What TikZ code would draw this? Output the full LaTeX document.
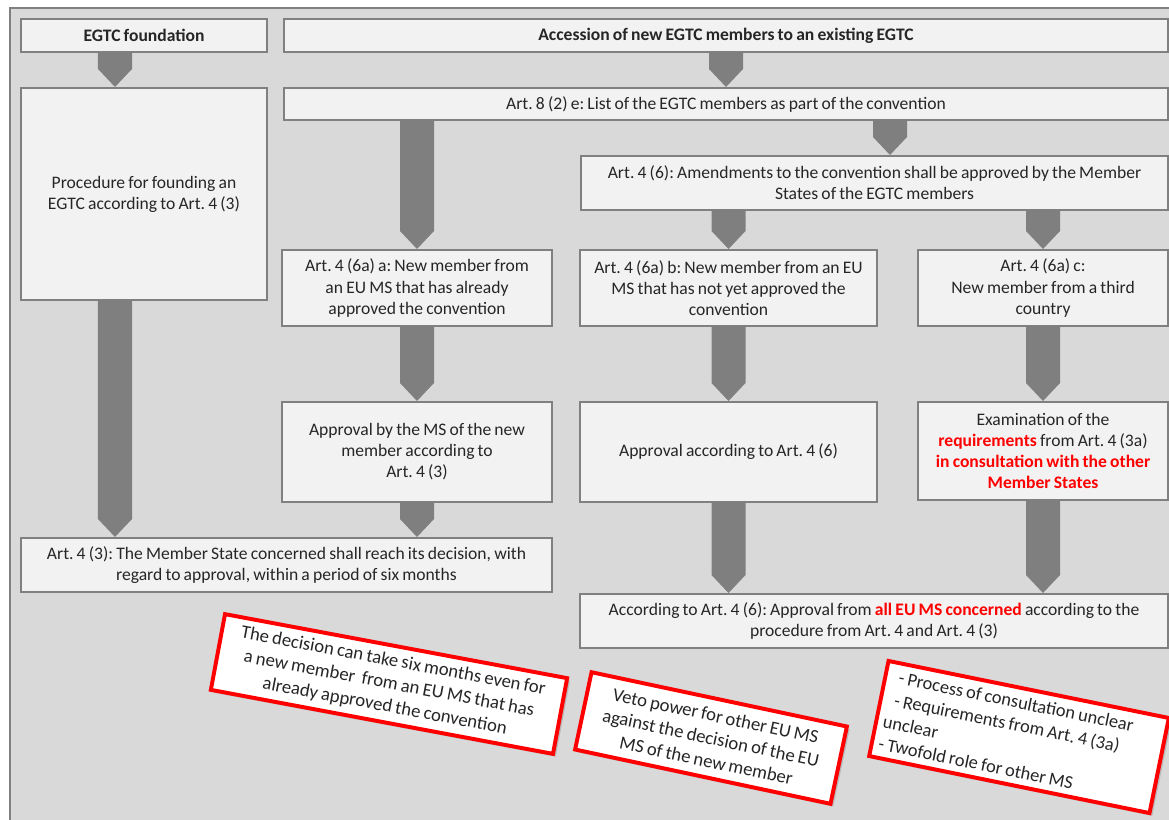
\documentclass[tikz,border=0pt]{standalone}
\usepackage{fontspec}
\setmainfont{Carlito}[WordSpace=0.8]
\usetikzlibrary{calc,shadows}

\definecolor{framegray}{HTML}{D9D9D9}
\definecolor{boxgray}{HTML}{F2F2F2}
\definecolor{linegray}{HTML}{808080}
\definecolor{arrowgray}{HTML}{7F7F7F}
\definecolor{txtgray}{HTML}{262626}
\definecolor{notered}{HTML}{FF0000}

% block arrow from one box to the next, in the column of #3
\newcommand{\blockarrow}[3]{%
  \fill[arrowgray] let \p1=(#1.south -| #3), \p2=(#2.north -| #3) in
    (\x1-0.425cm,\y1) -- (\x1+0.425cm,\y1) -- (\x2+0.425cm,\y2+0.45cm)
    -- (\x2,\y2) -- (\x2-0.425cm,\y2+0.45cm) -- cycle;}
\newcommand{\hl}[1]{\textcolor{notered}{\textbf{#1}}}

\begin{document}
\frenchspacing
\begin{tikzpicture}[x=0.025cm, y=-0.025cm,
  box/.style={draw=linegray, line width=1.4pt, fill=boxgray, align=center,
    inner sep=2pt, text=txtgray, font=\fontsize{12.5}{15}\selectfont},
  headbox/.style={box, font=\fontsize{12.5}{15}\selectfont\bfseries},
  note/.style={draw=notered, line width=2.8pt, fill=white, text=txtgray,
    font=\fontsize{13.3}{16.3}\selectfont,
    drop shadow={opacity=0.35, shadow xshift=2pt, shadow yshift=-2pt}}]
  \useasboundingbox (0,0) rectangle (1169,820);
  \clip (0,0) rectangle (1169,820);

  % frame
  \fill[framegray] (10,8) rectangle (1190,840);
  \draw[linegray, line width=1.4pt] (10,8) rectangle (1190,840);

  % headers
  \node[headbox, minimum width=6.15cm, minimum height=0.825cm] (found) at (144,35.5) {EGTC foundation};
  \node[headbox, minimum width=22.1cm, minimum height=0.825cm] (access) at (726,35.5) {Accession of new EGTC members to an existing EGTC};

  % boxes
  \node[box, minimum width=6.15cm, minimum height=5.3cm] (proc) at (144,194) {Procedure for founding an\\EGTC according to Art. 4 (3)};
  \node[box, minimum width=22.1cm, minimum height=0.8cm] (art8) at (726,104) {Art. 8 (2) e: List of the EGTC members as part of the convention};
  \node[box, minimum width=14.675cm, minimum height=1.35cm] (art46) at (874.5,183) {Art. 4 (6): Amendments to the convention shall be approved by the Member\\States of the EGTC members};
  \node[box, minimum width=6.75cm, minimum height=1.9cm] (newa) at (417,288) {Art. 4 (6a) a: New member from\\an EU MS that has already\\approved the convention};
  \node[box, minimum width=7.425cm, minimum height=1.9cm] (newb) at (728.5,288) {Art. 4 (6a) b: New member from an EU\\MS that has not yet approved the\\convention};
  \node[box, minimum width=6.25cm, minimum height=1.9cm] (newc) at (1043,288) {Art. 4 (6a) c:\\New member from a third\\country};
  \node[box, minimum width=6.75cm, minimum height=2.5cm] (apprms) at (417,452) {Approval by the MS of the new\\member according to\\Art. 4 (3)};
  \node[box, minimum width=7.425cm, minimum height=2.5cm] (apprb) at (728.5,452) {Approval according to Art. 4 (6)};
  \node[box, minimum width=6.25cm, minimum height=2.45cm] (exam) at (1043,451) {Examination of the\\\hl{requirements} from Art. 4 (3a)\\\hl{in consultation with the other}\\\hl{Member States}};
  \node[box, minimum width=13.275cm, minimum height=1.35cm] (decision) at (286.5,565) {Art. 4 (3): The Member State concerned shall reach its decision, with\\regard to approval, within a period of six months};
  \node[box, minimum width=14.7cm, minimum height=1.35cm] (allms) at (874,621) {According to Art. 4 (6): Approval from \hl{all EU MS concerned} according to the\\procedure from Art. 4 and Art. 4 (3)};

  % columns off the box centres
  \coordinate (colL) at (115,0);
  \coordinate (colR) at (890,0);

  % arrows
  \blockarrow{found}{proc}{colL}
  \blockarrow{access}{art8}{access}
  \blockarrow{art8}{newa}{newa}
  \blockarrow{art8}{art46}{colR}
  \blockarrow{art46}{newb}{newb}
  \blockarrow{art46}{newc}{newc}
  \blockarrow{newa}{apprms}{newa}
  \blockarrow{newb}{apprb}{newb}
  \blockarrow{newc}{exam}{newc}
  \blockarrow{proc}{decision}{colL}
  \blockarrow{apprms}{decision}{apprms}
  \blockarrow{apprb}{allms}{apprb}
  \blockarrow{exam}{allms}{exam}

  % remarks
  \node[note, align=center, minimum width=8.7cm, minimum height=1.925cm, rotate=-10.6] (rem1) at (389,684) {The decision can take six months even for\\a new member\ \ from an EU MS that has\\already approved the convention};
  \node[note, align=center, minimum width=6.525cm, minimum height=1.975cm, rotate=-12] (rem2) at (711,738) {Veto power for other EU MS\\against the decision of the EU\\MS of the new member};
  \node[note, align=flush left, text width=6.8cm, minimum width=7.15cm, minimum height=2.425cm, rotate=-11.5, font=\fontsize{13.1}{16.2}\selectfont] (rem3) at (1019,737) {\ \ - Process of consultation unclear\\\ \ - Requirements from Art. 4 (3a)\\unclear\\- Twofold role for other MS};
\end{tikzpicture}
\end{document}
